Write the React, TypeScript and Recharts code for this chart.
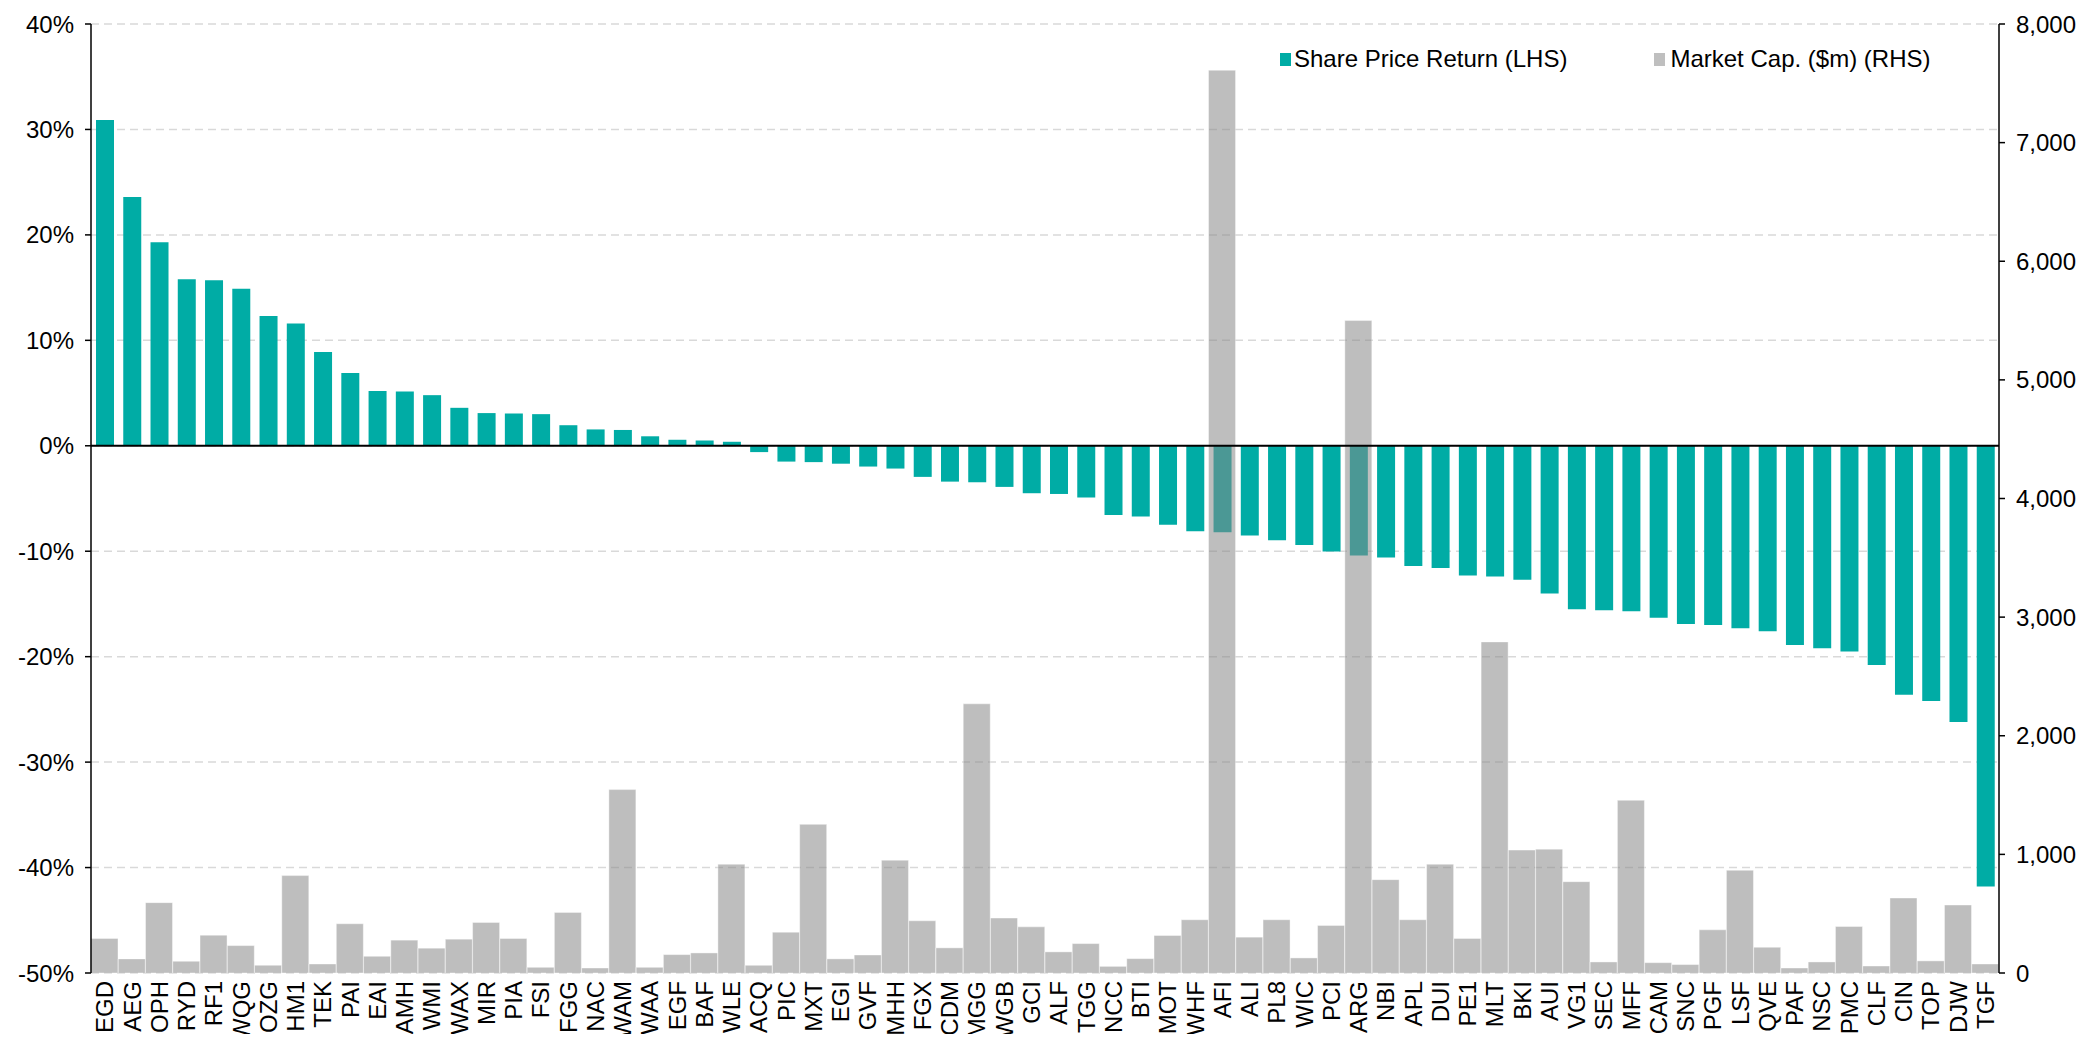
import {
  ComposedChart,
  Bar,
  XAxis,
  YAxis,
  CartesianGrid,
  ReferenceLine,
} from "recharts";

const tickers = [
  "EGD", "AEG", "OPH", "RYD", "RF1", "WQG", "OZG", "HM1", "TEK", "PAI",
  "EAI", "AMH", "WMI", "WAX", "MIR", "PIA", "FSI", "FGG", "NAC", "WAM",
  "WAA", "EGF", "BAF", "WLE", "ACQ", "PIC", "MXT", "EGI", "GVF", "MHH",
  "FGX", "CDM", "MGG", "WGB", "GCI", "ALF", "TGG", "NCC", "BTI", "MOT",
  "WHF", "AFI", "ALI", "PL8", "WIC", "PCI", "ARG", "NBI", "APL", "DUI",
  "PE1", "MLT", "BKI", "AUI", "VG1", "SEC", "MFF", "CAM", "SNC", "PGF",
  "LSF", "QVE", "PAF", "NSC", "PMC", "CLF", "CIN", "TOP", "DJW", "TGF",
];

// share price return, % (LHS)
const priceReturn = [
  30.9, 23.6, 19.3, 15.8, 15.7, 14.9, 12.3, 11.6, 8.9, 6.9,
  5.2, 5.15, 4.8, 3.6, 3.1, 3.05, 3.0, 1.95, 1.55, 1.5,
  0.9, 0.57, 0.5, 0.38, -0.6, -1.5, -1.55, -1.7, -1.97, -2.16,
  -2.95, -3.4, -3.46, -3.9, -4.5, -4.57, -4.9, -6.57, -6.7, -7.5,
  -8.1, -8.2, -8.5, -8.95, -9.4, -10.03, -10.4, -10.6, -11.4, -11.6,
  -12.3, -12.4, -12.7, -14.0, -15.5, -15.6, -15.7, -16.3, -16.9, -17.0,
  -17.3, -17.6, -18.9, -19.2, -19.5, -20.8, -23.6, -24.2, -26.2, -41.8,
];

// market cap, $m (RHS)
const marketCap = [
  291, 119, 593, 99, 319, 231, 65, 821, 76, 415,
  141, 277, 209, 285, 426, 291, 48, 511, 42, 1546,
  48, 155, 169, 917, 65, 344, 1253, 119, 152, 951,
  440, 212, 2269, 463, 389, 178, 248, 56, 121, 316,
  449, 7610, 302, 449, 127, 401, 5500, 787, 449, 917,
  291, 2791, 1036, 1044, 770, 93, 1456, 87, 71, 364,
  866, 217, 42, 93, 392, 59, 632, 102, 573, 76,
];

const leftTicks = [-50, -40, -30, -20, -10, 0, 10, 20, 30, 40];
const rightTicks = [0, 1000, 2000, 3000, 4000, 5000, 6000, 7000, 8000];

const data = tickers.map((t, i) => ({
  name: t,
  ret: priceReturn[i],
  cap: marketCap[i],
}));

const FONT = 'Arial, "Liberation Sans", sans-serif';
const TEAL = "#00ACA5";

const CategoryTick = (props: any) => {
  const { x, y, payload } = props;
  return (
    <text
      x={x}
      y={y}
      transform={`rotate(-90 ${x} ${y})`}
      textAnchor="end"
      dy="0.36em"
      fontSize={24}
      fontFamily={FONT}
      fill="#000"
    >
      {payload.value}
    </text>
  );
};

export default function App() {
  return (
    <div
      style={{
        position: "relative",
        width: 2097,
        height: 1042,
        margin: -8,
        background: "#fff",
        fontFamily: FONT,
      }}
    >
      <ComposedChart
        width={2097}
        height={1042}
        data={data}
        margin={{ top: 24, right: 0, left: 0, bottom: 0 }}
        barCategoryGap="0%"
        barGap={0}
      >
        <CartesianGrid
          yAxisId="left"
          xAxisId="a"
          vertical={false}
          stroke="#D9D9D9"
          strokeWidth={1.5}
          strokeDasharray="8 5"
        />
        <XAxis
          xAxisId="a"
          dataKey="name"
          type="category"
          interval={0}
          height={69}
          axisLine={false}
          tickLine={false}
          tickSize={0}
          tickMargin={8}
          tick={<CategoryTick />}
        />
        <XAxis xAxisId="b" dataKey="name" type="category" hide />
        <YAxis
          yAxisId="left"
          orientation="left"
          width={91}
          domain={[-50, 40]}
          ticks={leftTicks}
          interval={0}
          tickFormatter={(v: number) => `${v}%`}
          axisLine={{ stroke: "#000", strokeWidth: 1.5 }}
          tickLine={{ stroke: "#000", strokeWidth: 1.5 }}
          tickSize={6}
          tickMargin={11}
          tick={{ fontSize: 24, fill: "#000", fontFamily: FONT }}
        />
        <YAxis
          yAxisId="right"
          orientation="right"
          width={98}
          domain={[0, 8000]}
          ticks={rightTicks}
          interval={0}
          tickFormatter={(v: number) => v.toLocaleString("en-US")}
          axisLine={{ stroke: "#000", strokeWidth: 1.5 }}
          tickLine={{ stroke: "#000", strokeWidth: 1.5 }}
          tickSize={6}
          tickMargin={11}
          tick={{ fontSize: 24, fill: "#000", fontFamily: FONT }}
        />
        <Bar
          xAxisId="a"
          yAxisId="left"
          dataKey="ret"
          fill={TEAL}
          barSize={18}
          isAnimationActive={false}
        />
        <Bar
          xAxisId="b"
          yAxisId="right"
          dataKey="cap"
          fill="#888888"
          fillOpacity={0.55}
          stroke="#ffffff"
          strokeOpacity={0.5}
          strokeWidth={0.8}
          isAnimationActive={false}
        />
        <ReferenceLine
          yAxisId="left"
          xAxisId="a"
          y={0}
          stroke="#000"
          strokeWidth={2}
        />
      </ComposedChart>

      <div
        style={{
          position: "absolute",
          left: 1280,
          top: 45,
          display: "flex",
          alignItems: "center",
          fontSize: 24,
          color: "#000",
          whiteSpace: "nowrap",
        }}
      >
        <span
          style={{ width: 11, height: 13, background: TEAL, marginRight: 3 }}
        />
        <span>Share Price Return (LHS)</span>
        <span
          style={{
            width: 11,
            height: 13,
            background: "#BFBFBF",
            marginLeft: 87,
            marginRight: 5,
          }}
        />
        <span>Market Cap. ($m) (RHS)</span>
      </div>
    </div>
  );
}
